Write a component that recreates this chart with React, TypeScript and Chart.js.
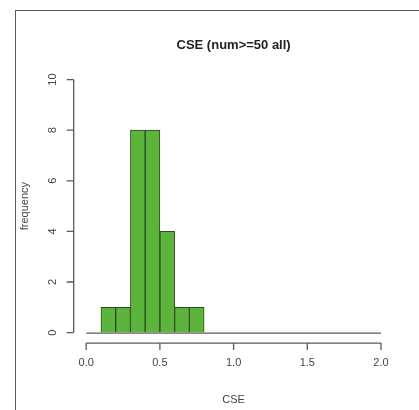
import React, { useEffect, useRef } from "react";
import { Chart, registerables } from "chart.js";

Chart.register(...registerables);

const binStarts = [0.1, 0.2, 0.3, 0.4, 0.5, 0.6, 0.7];
const binWidth = 0.1;
const counts = [1, 1, 8, 8, 4, 1, 1];
const xTickStep = 0.5;
const yTickStep = 2;
const titleText = "CSE (num>=50 all)";
const xTitle = "CSE";
const yTitle = "frequency";

const FONT = "'Liberation Sans', Arial, Helvetica, sans-serif";
const AXIS_COLOR = "#5a5a5a";
const LABEL_COLOR = "#444";

const rAxesPlugin = {
  id: "rAxes",
  afterDraw(chart: any) {
    const { ctx } = chart;
    const xs = chart.scales.x;
    const ys = chart.scales.y;
    const y0 = ys.getPixelForValue(0);
    const x0 = xs.getPixelForValue(xs.min);
    const x1 = xs.getPixelForValue(xs.max);
    ctx.save();
    ctx.strokeStyle = AXIS_COLOR;
    ctx.lineWidth = 1.3;
    // baseline at zero
    ctx.beginPath();
    ctx.moveTo(x0, y0 + 0.5);
    ctx.lineTo(x1, y0 + 0.5);
    ctx.stroke();
    // x axis
    const xAxisY = y0 + 10.5;
    ctx.beginPath();
    ctx.moveTo(x0, xAxisY);
    ctx.lineTo(x1, xAxisY);
    xs.ticks.forEach((t: any) => {
      const px = xs.getPixelForValue(t.value);
      ctx.moveTo(px, xAxisY);
      ctx.lineTo(px, xAxisY + 7);
    });
    ctx.stroke();
    // y axis
    const yAxisX = x0 - 12.5;
    const yTop = ys.getPixelForValue(ys.max);
    ctx.beginPath();
    ctx.moveTo(yAxisX, y0);
    ctx.lineTo(yAxisX, yTop);
    ys.ticks.forEach((t: any) => {
      const py = ys.getPixelForValue(t.value);
      ctx.moveTo(yAxisX, py);
      ctx.lineTo(yAxisX - 7, py);
    });
    ctx.stroke();
    // y tick labels (rotated, R style)
    ctx.fillStyle = LABEL_COLOR;
    ctx.font = `11px ${FONT}`;
    ctx.textAlign = "center";
    ctx.textBaseline = "middle";
    ys.ticks.forEach((t: any) => {
      const py = ys.getPixelForValue(t.value);
      ctx.save();
      ctx.translate(yAxisX - 21, py);
      ctx.rotate(-Math.PI / 2);
      ctx.fillText(t.label, 0, 0);
      ctx.restore();
    });
    ctx.restore();
  },
};

export default function App() {
  const ref = useRef<HTMLCanvasElement | null>(null);
  useEffect(() => {
    if (!ref.current) return;
    const data = binStarts.map((s, i) => ({ x: s + binWidth / 2, y: counts[i] }));
    const chart = new Chart(ref.current, {
      type: "bar",
      data: {
        datasets: [
          {
            data,
            backgroundColor: "#5db43d",
            borderColor: "#2d4a22",
            borderWidth: 1,
            barPercentage: 1,
            categoryPercentage: 1,
          } as any,
        ],
      },
      options: {
        responsive: false,
        animation: false,
        layout: { padding: { left: 0, right: 38, top: 0, bottom: 0 } },
        plugins: {
          legend: { display: false },
          tooltip: { enabled: false },
          title: {
            display: true,
            text: titleText,
            fullSize: false,
            color: "#222",
            font: { family: FONT, size: 13, weight: "bold" },
            padding: { top: 38, bottom: 26 },
          },
        },
        scales: {
          x: {
            type: "linear",
            min: 0,
            max: 2,
            offset: false,
            grid: { display: false, drawTicks: false },
            border: { display: false },
            ticks: {
              stepSize: xTickStep,
              padding: 24,
              color: LABEL_COLOR,
              font: { family: FONT, size: 11 },
              maxRotation: 0,
              callback: (v: any) => Number(v).toFixed(1),
            },
            title: {
              display: true,
              text: xTitle,
              color: LABEL_COLOR,
              font: { family: FONT, size: 11 },
              padding: { top: 0, bottom: 3 },
            },
          },
          y: {
            min: 0,
            max: 10,
            grid: { display: false, drawTicks: false },
            border: { display: false },
            ticks: { stepSize: yTickStep, display: false },
            title: {
              display: true,
              text: yTitle,
              color: LABEL_COLOR,
              font: { family: FONT, size: 11 },
              padding: { top: 18, bottom: 55 },
            },
          },
        },
      },
      plugins: [rAxesPlugin],
    });
    return () => chart.destroy();
  }, []);
  return (
    <div style={{ position: "fixed", left: 0, top: 0, width: 419, height: 410, background: "#fff" }}>
      <div
        style={{
          position: "absolute",
          left: 15,
          top: 10,
          right: 0,
          bottom: 0,
          borderTop: "1.5px solid #5a5a5a",
          borderLeft: "1.5px solid #5a5a5a",
        }}
      />
      <canvas ref={ref} width={419} height={410} style={{ position: "absolute", left: 0, top: 0 }} />
    </div>
  );
}
